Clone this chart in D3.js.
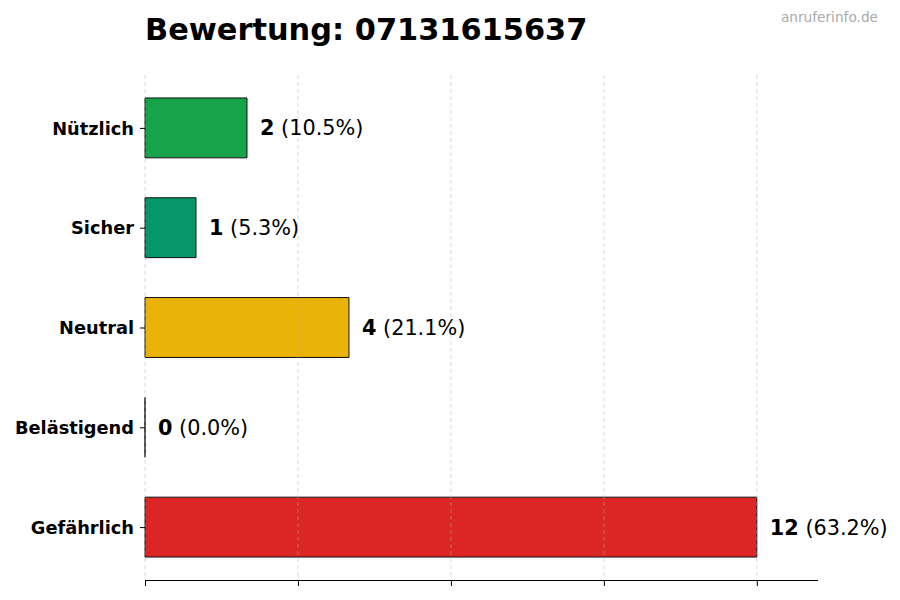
<!DOCTYPE html>
<html><head><meta charset="utf-8">
<script src="https://cdn.jsdelivr.net/npm/d3@7/dist/d3.min.js"></script>
<style>body{margin:0;background:#fff}svg{display:block}text{font-family:"DejaVu Sans",sans-serif}</style>
</head><body><svg id="c" width="900" height="600"></svg>
<script>
const categories = ["Nützlich","Sicher","Neutral","Belästigend","Gefährlich"];
const values = [2,1,4,0,12];
const percents = ["10.5%","5.3%","21.1%","0.0%","63.2%"];
const colors = ["#16a34a","#059669","#eab308","#ea580c","#dc2626"];
const xTicks = [0,3,6,9,12];
const title = "Bewertung: 07131615637";
const watermark = "anruferinfo.de";

(function(){
const svg = d3.select("#c");
const mLeft = 145, mRight = 818, mTop = 75, mBottom = 580;
const x = d3.scaleLinear().domain([0, 13.2]).range([mLeft, mRight]);
const y = d3.scaleLinear().domain([-0.53, 4.53]).range([mTop, mBottom]);
const bh = 0.6;

// bars
svg.append("g").selectAll("path").data(values).join("path")
  .attr("d", (d,i) => {
    const p = d3.path();
    p.rect(x(0), y(i - bh/2), x(d) - x(0), y(i + bh/2) - y(i - bh/2));
    return p.toString();
  })
  .attr("fill", (d,i) => colors[i])
  .attr("stroke", "#111").attr("stroke-width", 1);

// grid on top
svg.append("g").selectAll("line").data(xTicks).join("line")
  .attr("x1", d => x(d)).attr("x2", d => x(d))
  .attr("y1", mTop).attr("y2", mBottom)
  .attr("stroke", "#b0b0b0").attr("stroke-opacity", 0.6)
  .attr("stroke-dasharray", "4,3").attr("stroke-width", 0.8);

// x axis
const xa = svg.append("g").attr("transform", `translate(0,${mBottom})`)
  .call(d3.axisBottom(x).tickValues(xTicks).tickSize(6).tickFormat(""));
xa.select(".domain").attr("d", `M${mLeft},0.5H${mRight}`).attr("stroke","#000").attr("stroke-width",1.1);
xa.selectAll(".tick line").attr("stroke","#000").attr("stroke-width",1);

// y axis
const ya = svg.append("g").attr("transform", `translate(${mLeft},0)`)
  .call(d3.axisLeft(y).tickValues(d3.range(categories.length)).tickSize(5).tickPadding(6)
    .tickFormat(i => categories[i]));
ya.select(".domain").remove();
ya.selectAll(".tick line").attr("stroke","#000");
ya.selectAll(".tick text").attr("font-size", 17.8).attr("font-weight","bold")
  .attr("fill","#000").attr("font-family","DejaVu Sans").attr("dy","0.35em");

// value labels
const lab = svg.append("g").selectAll("text").data(values).join("text")
  .attr("x", d => x(d) + 13).attr("y", (d,i) => y(i)).attr("dy","0.36em")
  .attr("font-size", 20.8).attr("fill","#000");
lab.append("tspan").attr("font-weight","bold").text(d => d);
lab.append("tspan").text((d,i) => " (" + percents[i] + ")");

// title
svg.append("text").attr("x", mLeft).attr("y", 40).attr("font-size", 30.4)
  .attr("font-weight","bold").attr("fill","#000").text(title);
svg.append("text").attr("x", 878).attr("y", 22).attr("text-anchor","end")
  .attr("font-size", 13.7).attr("fill","#aaaaaa").text(watermark);
})();
</script></body></html>
